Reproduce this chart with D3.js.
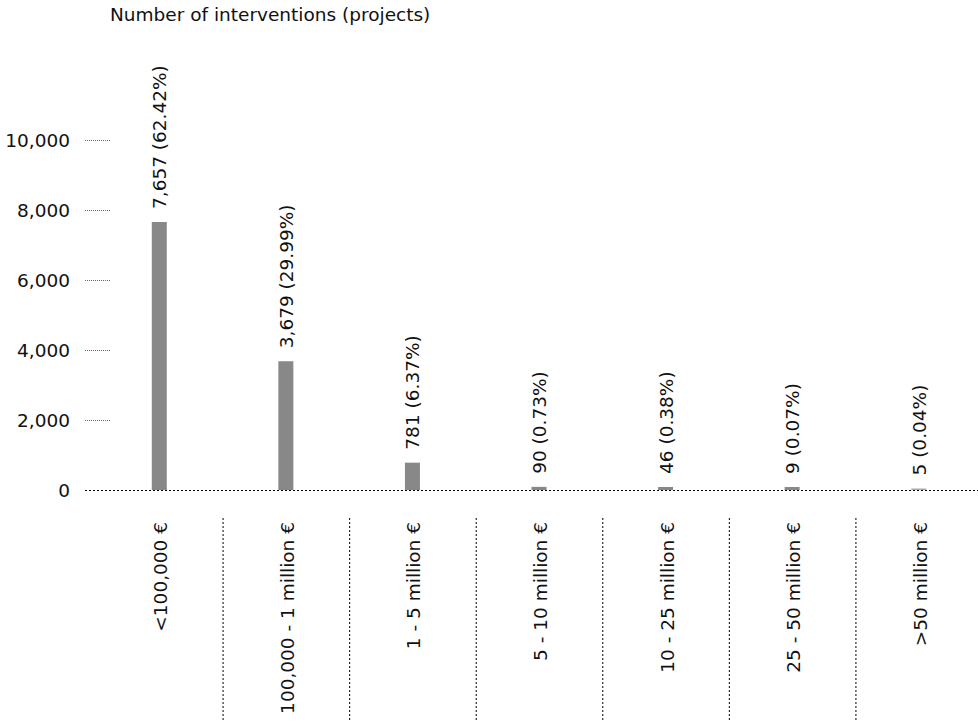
<!DOCTYPE html>
<html><head><meta charset="utf-8">
<script src="https://cdn.jsdelivr.net/npm/d3@7"></script>
<style>body{margin:0;background:#fff}svg{display:block}text{font-family:"DejaVu Sans",Verdana,sans-serif;fill:#111}</style>
</head><body><svg id="c" width="978" height="722"></svg>
<script>
const categories = ["<100,000 €","100,000 - 1 million €","1 - 5 million €","5 - 10 million €","10 - 25 million €","25 - 50 million €",">50 million €"];
const values = [7657, 3679, 781, 90, 46, 9, 5];
const shares = ["62.42%","29.99%","6.37%","0.73%","0.38%","0.07%","0.04%"];
const yTicks = [0, 2000, 4000, 6000, 8000, 10000];
const yTitle = "Number of interventions (projects)";

const svg = d3.select("#c");
const fs = 18.5;
const y = d3.scaleLinear().domain([0, 10000]).range([490, 140]);
const x = d3.scaleBand().domain(categories).range([96, 982]);
const fmt = d3.format(",");

// title
svg.append("text").attr("x", 110).attr("y", 21).style("font-size", fs+"px").text(yTitle);

// y ticks
const yg = svg.append("g");
yTicks.forEach(t => {
  yg.append("text").attr("x", 70).attr("y", y(t)).attr("dy", "0.36em")
    .attr("text-anchor", "end").style("font-size", fs+"px").text(fmt(t));
  if (t !== 0) yg.append("line").attr("x1", 85).attr("x2", 111).attr("y1", y(t)+0.5).attr("y2", y(t)+0.5)
    .attr("stroke", "#666").attr("stroke-width", 1).attr("stroke-dasharray", "1,1");
});

// bars
const bw = 15;
const barTop = (d,i) => i === 6 ? y(0) - 1.5 : Math.min(y(d), y(0) - 3);
svg.selectAll("rect.bar").data(values).enter().append("rect")
  .attr("x", (d,i) => x(categories[i]) + x.bandwidth()/2 - bw/2)
  .attr("y", (d,i) => barTop(d,i))
  .attr("width", bw)
  .attr("height", (d,i) => y(0) - barTop(d,i))
  .attr("fill", (d,i) => i === 6 ? "#aaa" : "#888888");

// baseline
svg.append("line").attr("x1", 85).attr("x2", 978).attr("y1", y(0)+0.5).attr("y2", y(0)+0.5)
  .attr("stroke", "#000").attr("stroke-width", 1).attr("stroke-dasharray", "2,2");

// value labels
values.forEach((v,i) => {
  const cx = x(categories[i]) + x.bandwidth()/2 + 7;
  const ty = barTop(v,i) - 13;
  svg.append("text").attr("transform", `translate(${cx},${ty}) rotate(-90)`)
    .style("font-size", fs+"px").text(`${fmt(v)} (${shares[i]})`);
});

// separators
categories.slice(1).forEach(c => {
  svg.append("line").attr("x1", x(c)+0.5).attr("x2", x(c)+0.5).attr("y1", 518).attr("y2", 722)
    .attr("stroke", "#000").attr("stroke-width", 1).attr("stroke-dasharray", "2,2");
});

// category labels
categories.forEach(c => {
  const cx = x(c) + x.bandwidth()/2 + 8;
  svg.append("text").attr("transform", `translate(${cx},522) rotate(-90)`)
    .attr("text-anchor", "end").style("font-size", fs+"px").text(c);
});
</script></body></html>
